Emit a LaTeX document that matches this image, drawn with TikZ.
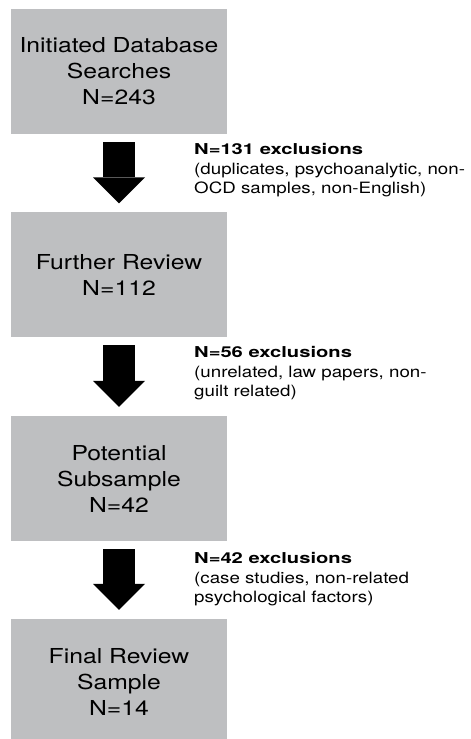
\documentclass[tikz,border=0pt]{standalone}
\usepackage{fontspec}
\usepackage{graphicx}
\setmainfont{TeX Gyre Heros}[FakeStretch=1.2]
\usetikzlibrary{arrows.meta}
\definecolor{boxgrey}{RGB}{190,191,193}
\tikzset{
  box/.style={fill=boxgrey, minimum width=216pt, minimum height=125pt, inner sep=0pt,
    align=center, font=\fontsize{20.6}{26}\selectfont},
  flow/.style={line width=32pt, -{Triangle[width=52pt, length=26pt, line width=0pt]}},
  note/.style={anchor=north west, inner sep=0pt, align=left,
    font=\fontsize{15.6}{19.5}\selectfont}
}
\newcommand{\notehead}[1]{\scalebox{1.12}[1]{\bfseries\fontsize{15}{19.5}\selectfont #1}}
\begin{document}
\begin{tikzpicture}[x=1pt, y=-1pt]
  \useasboundingbox (0,0) rectangle (471,739);
  \node[box] (b1) at (119,71) {Initiated Database\\Searches\\N=243};
  \node[box] (b2) at (119,274.5) {Further Review\\N=112};
  \node[box] (b3) at (119,478.5) {Potential\\Subsample\\N=42};
  \node[box] (b4) at (119,681.5) {Final Review\\Sample\\N=14};
  \draw[flow] ([yshift=-8.5pt]b1.south) -- ([yshift=8.5pt]b2.north);
  \draw[flow] ([yshift=-8pt]b2.south) -- ([yshift=9pt]b3.north);
  \draw[flow] ([yshift=-8pt]b3.south) -- ([yshift=9pt]b4.north);
  \node[note] (n1) at (194,143.2) {\notehead{N=131 exclusions}\\(duplicates, psychoanalytic, non-\\OCD samples, non-English)};
  \node[note] (n2) at (194,346.2) {\notehead{N=56 exclusions}\\(unrelated, law papers, non-\\guilt related)};
  \node[note] (n3) at (194,552.2) {\notehead{N=42 exclusions}\\(case studies, non-related\\psychological factors)};
\end{tikzpicture}
\end{document}
